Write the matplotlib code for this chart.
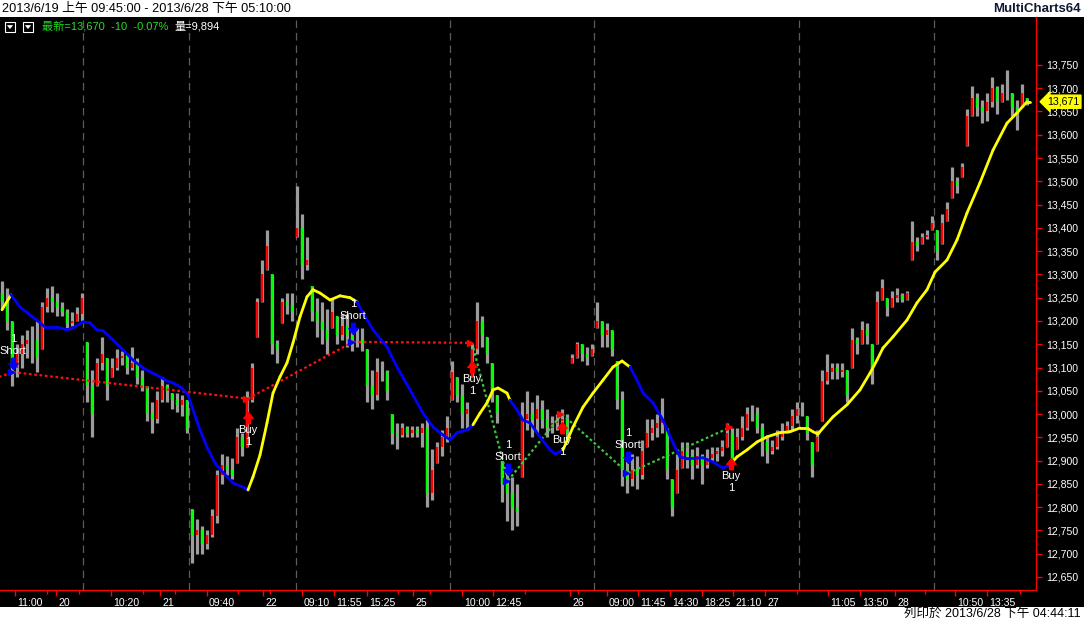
import numpy as np
import matplotlib
matplotlib.use("Agg")
import matplotlib.pyplot as plt
import matplotlib.transforms as mtransforms
from matplotlib.collections import LineCollection
from matplotlib.patches import Rectangle, Polygon

plt.rcParams['font.family'] = ['Liberation Sans', 'Noto Sans CJK TC', 'DejaVu Sans']

# 5-min bars (one entry per drawn bar)
highs = [13285, 13270, 13200, 13150, 13170, 13180, 13190, 13200, 13240, 13270,
         13275, 13260, 13240, 13225, 13220, 13230, 13260, 13155, 13095, 13120,
         13165, 13120, 13120, 13140, 13135, 13130, 13145, 13120, 13095, 13060,
         13025, 13050, 13080, 13065, 13045, 13045, 13040, 13030, 12795, 12775,
         12760, 12750, 12795, 12880, 12915, 12910, 12905, 12970, 12960, 13050,
         13110, 13250, 13330, 13395, 13300, 13160, 13250, 13260, 13260, 13490,
         13430, 13380, 13275, 13250, 13240, 13225, 13250, 13210, 13215, 13215,
         13185, 13185, 13185, 13140, 13095, 13120, 13115, 13095, 13000, 12980,
         12980, 12975, 12975, 12975, 12980, 12990, 12925, 12940, 12965, 12995,
         13115, 13080, 13065, 13025, 13150, 13240, 13210, 13165, 13110, 13040,
         12900, 12880, 12865, 12850, 13025, 13050, 13025, 13040, 13030, 13010,
         12995, 13000, 13010, 13000, 13130, 13155, 13150, 13145, 13150, 13240,
         13200, 13195, 13180, 13115, 13050, 12900, 12915, 12910, 12945, 12990,
         12990, 13000, 13035, 12970, 12860, 12915, 12940, 12940, 12925, 12930,
         12915, 12925, 12930, 12930, 12945, 12980, 12970, 12970, 12995, 13015,
         13020, 13015, 12980, 12950, 12945, 12965, 12980, 12985, 13010, 13025,
         13025, 12995, 12940, 12965, 13095, 13130, 13110, 13110, 13110, 13095,
         13185, 13165, 13200, 13195, 13150, 13265, 13290, 13250, 13265, 13270,
         13260, 13265, 13415, 13380, 13390, 13395, 13425, 13395, 13430, 13455,
         13530, 13510, 13540, 13655, 13705, 13690, 13675, 13690, 13725, 13705,
         13710, 13740, 13690, 13675, 13710, 13680]
lows = [13225, 13180, 13060, 13080, 13100, 13120, 13110, 13090, 13140, 13220,
        13220, 13210, 13210, 13185, 13190, 13200, 13200, 13025, 12950, 13060,
        13095, 13030, 13080, 13095, 13105, 13085, 13095, 13065, 13050, 12985,
        12960, 12980, 13025, 13025, 13010, 13005, 12995, 12960, 12680, 12700,
        12700, 12710, 12735, 12765, 12850, 12870, 12860, 12895, 12910, 12930,
        13025, 13165, 13240, 13310, 13130, 13110, 13195, 13215, 13200, 13380,
        13290, 13310, 13200, 13165, 13150, 13130, 13185, 13150, 13160, 13145,
        13135, 13145, 13135, 13025, 13010, 13030, 13070, 13030, 12935, 12925,
        12950, 12950, 12950, 12950, 12930, 12800, 12815, 12895, 12910, 12940,
        13030, 13025, 12970, 12965, 13080, 13130, 13145, 13110, 13025, 12980,
        12810, 12770, 12750, 12760, 12865, 12965, 12950, 12960, 12970, 12950,
        12960, 12965, 12970, 12945, 13110, 13120, 13115, 13105, 13125, 13185,
        13145, 13145, 13125, 13010, 12845, 12830, 12845, 12840, 12860, 12930,
        12945, 12950, 12960, 12860, 12780, 12830, 12885, 12885, 12860, 12885,
        12850, 12885, 12900, 12900, 12910, 12930, 12885, 12925, 12945, 12965,
        12985, 12960, 12910, 12895, 12915, 12925, 12945, 12960, 12965, 12980,
        12995, 12945, 12865, 12920, 12985, 13065, 13075, 13075, 13080, 13025,
        13100, 13130, 13150, 13150, 13065, 13150, 13245, 13210, 13230, 13240,
        13240, 13245, 13330, 13350, 13365, 13375, 13395, 13330, 13365, 13415,
        13465, 13475, 13510, 13575, 13640, 13640, 13625, 13630, 13660, 13645,
        13670, 13675, 13640, 13610, 13660, 13665]
closes = [13240, 13200, 13100, 13130, 13150, 13160, 13160, 13120, 13230, 13250,
          13240, 13230, 13220, 13195, 13200, 13215, 13250, 13060, 13000, 13110,
          13130, 13060, 13100, 13120, 13125, 13100, 13110, 13080, 13060, 13000,
          12990, 13030, 13060, 13050, 13030, 13020, 13030, 12965, 12740, 12750,
          12720, 12740, 12780, 12870, 12890, 12880, 12870, 12950, 12930, 13030,
          13100, 13240, 13300, 13360, 13150, 13140, 13240, 13235, 13220, 13400,
          13320, 13330, 13220, 13200, 13180, 13160, 13220, 13170, 13190, 13170,
          13160, 13160, 13150, 13060, 13040, 13090, 13090, 13050, 12960, 12955,
          12970, 12960, 12965, 12960, 12970, 12830, 12880, 12930, 12950, 12970,
          13090, 13040, 13000, 13010, 13140, 13200, 13170, 13130, 13050, 13000,
          12850, 12830, 12800, 12790, 12990, 13000, 12990, 13010, 12990, 12970,
          12980, 12985, 12990, 12960, 13120, 13150, 13130, 13120, 13140, 13200,
          13170, 13180, 13140, 13030, 12880, 12860, 12880, 12870, 12920, 12960,
          12970, 12980, 12990, 12880, 12800, 12880, 12920, 12910, 12890, 12910,
          12890, 12905, 12915, 12920, 12930, 12960, 12900, 12950, 12970, 13000,
          13000, 12970, 12940, 12920, 12930, 12950, 12960, 12975, 12995, 13010,
          13010, 12960, 12890, 12950, 13070, 13090, 13100, 13090, 13095, 13040,
          13160, 13150, 13180, 13170, 13100, 13240, 13270, 13230, 13250, 13255,
          13245, 13260, 13370, 13360, 13380, 13385, 13410, 13350, 13410, 13440,
          13500, 13490, 13530, 13640, 13680, 13660, 13650, 13670, 13700, 13670,
          13690, 13690, 13660, 13640, 13690, 13670]
first_open = 13260

# trend line (yellow while rising regime, blue while falling)
ma_idx = [0, 1.8, 3.6, 5.6, 7.6, 8.6, 11, 13, 14.2, 16.2, 17.6, 19, 20.2, 22.2, 24.2,
          26.2, 28.2, 29.6, 31.6, 33, 34.2, 36, 37.2, 38.2, 39.6, 41, 42.6, 44.2, 46.2,
          48, 49.2, 50.2, 51.6, 53, 54.2, 55.6, 57, 58.2, 59.6, 61, 62.2, 63.6, 65.6,
          67.6, 69.6, 71, 72.2, 74.2, 77, 79, 81.6, 84.2, 86.2, 88.2, 89.6, 91, 93,
          94.2, 95.6, 97, 98.2, 99.2, 101, 101.6, 103, 104.2, 105.6, 107.6, 109.6,
          110.6, 112.2, 114.2, 116.2, 118.2, 120.2, 122.2, 124, 125.6, 127, 128.2,
          130.2, 132.2, 134.2, 135.6, 137, 140.2, 142.2, 144.2, 145.6, 147, 149, 151,
          153, 155.6, 157.6, 159.6, 161, 162.2, 163.2, 164.2, 166.2, 169, 171.6, 173.6,
          175, 176.2, 178.2, 181, 183, 185, 186.6, 189, 191, 193, 195.6, 198.2, 201,
          203, 205, 205.6]
ma_val = [13224, 13256, 13230, 13213, 13196, 13187, 13187, 13181, 13185, 13198, 13196,
          13181, 13179, 13159, 13138, 13116, 13099, 13091, 13080, 13071, 13067, 13056,
          13041, 13009, 12966, 12929, 12895, 12874, 12852, 12844, 12837, 12865, 12912,
          12981, 13045, 13080, 13110, 13153, 13209, 13252, 13267, 13260, 13245, 13254,
          13250, 13241, 13217, 13181, 13144, 13101, 13052, 13002, 12972, 12955, 12945,
          12960, 12966, 12977, 13002, 13024, 13052, 13056, 13045, 13030, 13009, 12987,
          12981, 12951, 12923, 12914, 12923, 12972, 13015, 13045, 13073, 13101, 13114,
          13101, 13073, 13045, 13024, 12987, 12938, 12908, 12904, 12906, 12897, 12884,
          12891, 12908, 12923, 12940, 12951, 12960, 12962, 12970, 12970, 12962, 12957,
          12970, 12994, 13020, 13052, 13088, 13116, 13142, 13166, 13202, 13239, 13267,
          13305, 13331, 13374, 13432, 13497, 13567, 13625, 13647, 13671, 13671]
ma_turns = [1.8, 49.2, 71, 94.2, 101.6, 112.2, 125.6, 145.6]

# trades
trade_idx = [2.2, 49.2, 70.2, 94, 101.2, 112, 125.2, 145.8]
trade_price = [13090, 13033, 13155, 13153, 12857, 13000, 12873, 12972]
trade_side = ['Short', 'Buy', 'Short', 'Buy', 'Short', 'Buy', 'Short', 'Buy']
trade_link = ['red', 'red', 'red', 'green', 'green', 'green', 'green']
prev_entry = (-6, 13060)

# axis text
price_ticks = list(range(12650, 13751, 50))
time_pos = [2.6, 10.8, 21.8, 31.6, 41, 52.2, 60, 66.4, 73, 82.2, 92, 98.2,
            113.6, 121, 127.2, 133.6, 140, 146.2, 152.6, 165.2, 171.6, 178.6, 190.6, 197]
time_lbl = ['11:00', '20', '10:20', '21', '09:40', '22', '09:10', '11:55', '15:25', '25',
            '10:00', '12:45', '26', '09:00', '11:45', '14:30', '18:25', '21:10', '27',
            '11:05', '13:50', '28', '10:50', '13:35']
minor_pos = [9, 15.4, 28.2, 34.6, 47.2, 53.6, 79.2, 85.6, 104.6, 115.2, 159, 184.6, 203.6]
session_breaks = [16.2, 37.4, 58.8, 89.6, 118.4, 159.4, 186.4]
last_price = 13671

W, H = 1084, 622
fig = plt.figure(figsize=(W / 100, H / 100), dpi=100)
fig.patch.set_facecolor('white')
fig.add_artist(Rectangle((0, 15 / H), 1, 590 / H, transform=fig.transFigure,
                         facecolor='black', edgecolor='none', zorder=0))

ax = fig.add_axes([0, 32 / H, 1036 / W, 573 / H])
ax.set_facecolor('black')
ax.set_xlim(-0.4, 206.8)
ax.set_ylim(12622, 13853)

for b in session_breaks:
    ax.axvline(b, color='#5c5c5c', lw=0.9, linestyle=(0, (6, 4)), zorder=1)

# candles
x = np.arange(len(closes))
hi = np.array(highs)
lo = np.array(lows)
cl = np.array(closes)
op = np.clip(np.r_[first_open, cl[:-1]], lo, hi)
ax.vlines(x, lo, hi, color='#9c9c9c', lw=2.3, zorder=2)
body_col = np.where(cl >= op, '#ff0000', '#00ff00')
ax.vlines(x, np.minimum(op, cl), np.maximum(op, cl), colors=body_col, lw=1.7, zorder=3)

# trade links
ax.plot([prev_entry[0], trade_idx[0]], [prev_entry[1], trade_price[0]],
        color='#ff1010', lw=1.6, linestyle=(0, (1.2, 1.2)), zorder=4)
link_colors = {'red': '#ff1010', 'green': '#3cc83c'}
for k, c in enumerate(trade_link):
    ax.plot(trade_idx[k:k + 2], trade_price[k:k + 2], color=link_colors[c],
            lw=1.6, linestyle=(0, (1.2, 1.2)), zorder=4)

# trend line
ma_x = np.array(ma_idx)
ma_y = np.array(ma_val)
segs = [[(ma_x[j], ma_y[j]), (ma_x[j + 1], ma_y[j + 1])] for j in range(len(ma_x) - 1)]
regime = np.searchsorted(ma_turns, ma_x[:-1], side='right')
seg_col = ['#ffff00' if r % 2 == 0 else '#0000ff' for r in regime]
ax.add_collection(LineCollection(segs, colors=seg_col, linewidths=2.0, zorder=5,
                                 capstyle='round'))

# trade markers (arrow gap from the fill price, in pixels)
arrow_gap = [8, 18, 13, 23, 11, 13, 15, 36]
down_arrow = [(-0.3, 1), (0.3, 1), (0.3, 0.15), (0.75, 0.15), (0, -0.8),
              (-0.75, 0.15), (-0.3, 0.15), (-0.3, 1)]
up_arrow = [(px, -py) for px, py in down_arrow]


def shifted(dy_px):
    return mtransforms.offset_copy(ax.transData, fig=fig, x=0, y=dy_px * 0.72, units='points')


for xi, pr, side, gap in zip(trade_idx, trade_price, trade_side, arrow_gap):
    col = '#0000ff' if side == 'Short' else '#ff0000'
    ax.plot(xi - 0.5, pr, marker='>', ms=5, color=col, mec=col, zorder=7)
    sgn = 1 if side == 'Short' else -1
    ax.plot(xi, pr, marker=down_arrow if side == 'Short' else up_arrow, ms=9,
            color=col, mec=col, transform=shifted(sgn * gap), zorder=7)
    ax.text(xi, pr, side, color='white', fontsize=8, ha='center', va='center',
            transform=shifted(sgn * (gap + 13)), zorder=8)
    ax.text(xi, pr, '1', color='white', fontsize=8, ha='center', va='center',
            transform=shifted(sgn * (gap + 25)), zorder=8)

# axes styling
for s in ['top', 'left']:
    ax.spines[s].set_visible(False)
for s in ['right', 'bottom']:
    ax.spines[s].set_color('#ff0000')
    ax.spines[s].set_linewidth(1.0)
ax.yaxis.tick_right()
ax.set_yticks(price_ticks)
ax.set_yticklabels([f'{v:,}' for v in price_ticks])
ax.tick_params(axis='y', colors='#ff0000', labelcolor='white', length=4, width=1,
               pad=3, labelsize=7.6)
ax.set_xticks(time_pos)
ax.set_xticklabels(time_lbl)
ax.set_xticks(minor_pos, minor=True)
ax.tick_params(axis='x', which='major', colors='#ff0000', labelcolor='white', length=4,
               width=1, pad=2, labelsize=7.6)
ax.tick_params(axis='x', which='minor', colors='#ff0000', length=3, width=1)
for lbl in ax.get_xticklabels():
    lbl.set_horizontalalignment('left')
    lbl.set_transform(lbl.get_transform() + mtransforms.ScaledTranslation(1.5 / 72, 0, fig.dpi_scale_trans))

# last price tag
ax.annotate(f'{last_price:,}', xy=(1, last_price), xycoords=('axes fraction', 'data'),
            xytext=(8, 0), textcoords='offset points', ha='left', va='center',
            fontsize=7.6, color='black', annotation_clip=False,
            bbox=dict(boxstyle='larrow,pad=0.15', fc='#ffff00', ec='#ffff00'))

# header / footer
fig.text(2 / W, 1 - 9 / H, '2013/6/19 上午 09:45:00 - 2013/6/28 下午 05:10:00',
         ha='left', va='center', fontsize=9.2, color='black')
fig.text(1081 / W, 1 - 9 / H, 'MultiCharts64', ha='right', va='center', fontsize=9.5,
         fontweight='bold', color='#101a33')
fig.text(1081 / W, 1 - 614 / H, '列印於 2013/6/28 下午 04:44:11', ha='right', va='center',
         fontsize=9, color='black')

for bx in [5, 23]:
    fig.add_artist(Rectangle((bx / W, 1 - 32 / H), 10 / W, 10 / H, transform=fig.transFigure,
                             facecolor='black', edgecolor='white', lw=0.8, zorder=10))
    fig.add_artist(Polygon([((bx + 2.5) / W, 1 - 25.5 / H), ((bx + 7.5) / W, 1 - 25.5 / H),
                            ((bx + 5) / W, 1 - 28.5 / H)], closed=True, transform=fig.transFigure,
                           facecolor='white', edgecolor='white', lw=0.5, zorder=10))
fig.text(42 / W, 1 - 26 / H, '最新=13,670  -10  -0.07%', ha='left', va='center',
         fontsize=8, color='#22e022', zorder=10)
fig.text(174 / W, 1 - 26 / H, '量=9,894', ha='left', va='center', fontsize=8,
         color='white', zorder=10)

fig.savefig('out.png', dpi=100, facecolor=fig.get_facecolor())
